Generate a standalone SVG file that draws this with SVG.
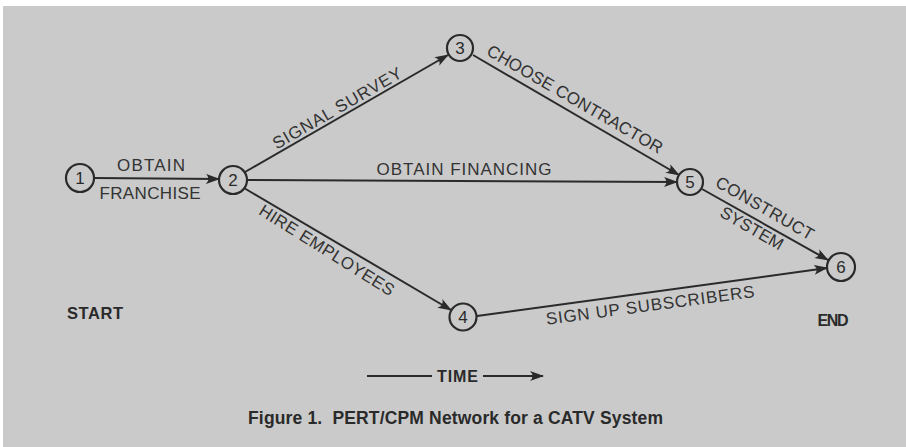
<svg xmlns="http://www.w3.org/2000/svg" width="906" height="447" viewBox="0 0 906 447">
<defs>
<style>
.bg{fill:#cacaca}
.node circle{fill:#cacaca;stroke:#2a2a2a;stroke-width:2.2}
.node text{font-family:"Liberation Sans",Arial,sans-serif;font-size:17px;fill:#2a2a2a;text-anchor:middle}
.edge{stroke:#2a2a2a;stroke-width:2;fill:none}
.lbl{font-family:"Liberation Sans",Arial,sans-serif;font-size:17px;fill:#333;text-anchor:middle}
.bold{font-family:"Liberation Sans",Arial,sans-serif;font-weight:bold;fill:#2a2a2a;text-anchor:middle}
</style>
<marker id="arr" viewBox="0 0 14 10" refX="13" refY="5" markerWidth="14" markerHeight="10" markerUnits="userSpaceOnUse" orient="auto">
<path d="M0,0 Q5,5 0,10 L14,5 Z" fill="#2a2a2a"/>
</marker>
</defs>
<rect x="0" y="0" width="906" height="447" fill="#ffffff"/>
<rect class="bg" x="3" y="6" width="903" height="441"/>
<g id="connectors">
<line class="edge" x1="94" y1="178" x2="219" y2="179" marker-end="url(#arr)"/>
<line class="edge" x1="245" y1="172" x2="448" y2="55" marker-end="url(#arr)"/>
<line class="edge" x1="247" y1="180" x2="677" y2="182" marker-end="url(#arr)"/>
<line class="edge" x1="244" y1="188" x2="451" y2="310" marker-end="url(#arr)"/>
<line class="edge" x1="473" y1="55" x2="679" y2="175" marker-end="url(#arr)"/>
<line class="edge" x1="702" y1="189" x2="828" y2="260" marker-end="url(#arr)"/>
<line class="edge" x1="477" y1="316" x2="827" y2="268" marker-end="url(#arr)"/>
</g>
<g id="edge-labels">
<text class="lbl" x="151" y="171" textLength="68" lengthAdjust="spacing">OBTAIN</text>
<text class="lbl" x="150" y="199" textLength="101" lengthAdjust="spacing">FRANCHISE</text>
<text class="lbl" transform="translate(337,108) rotate(-30)" x="0" y="6" textLength="146" lengthAdjust="spacing">SIGNAL SURVEY</text>
<text class="lbl" x="464" y="175" textLength="175" lengthAdjust="spacing">OBTAIN FINANCING</text>
<text class="lbl" transform="translate(575,99) rotate(30)" x="0" y="6" textLength="200" lengthAdjust="spacing">CHOOSE CONTRACTOR</text>
<text class="lbl" transform="translate(327,250) rotate(32)" x="0" y="6" textLength="156" lengthAdjust="spacing">HIRE EMPLOYEES</text>
<text class="lbl" transform="translate(765,208) rotate(30)" x="0" y="6" textLength="110" lengthAdjust="spacing">CONSTRUCT</text>
<text class="lbl" transform="translate(752,228) rotate(30)" x="0" y="6" textLength="70" lengthAdjust="spacing">SYSTEM</text>
<text class="lbl" transform="translate(650,305) rotate(-7.6)" x="0" y="6" textLength="210" lengthAdjust="spacing">SIGN UP SUBSCRIBERS</text>
</g>
<g id="node1" class="node"><circle cx="80" cy="178" r="14"/><text x="80" y="184">1</text></g>
<g id="node2" class="node"><circle cx="233" cy="180" r="14"/><text x="233" y="186">2</text></g>
<g id="node3" class="node"><circle cx="460" cy="48" r="13"/><text x="460" y="54">3</text></g>
<g id="node4" class="node"><circle cx="463" cy="317" r="13.5"/><text x="463" y="323">4</text></g>
<g id="node5" class="node"><circle cx="690" cy="182" r="13"/><text x="690" y="188">5</text></g>
<g id="node6" class="node"><circle cx="841" cy="267" r="14"/><text x="841" y="273">6</text></g>
<g id="annotations">
<text class="bold" x="95" y="319" font-size="16.5" textLength="56" lengthAdjust="spacing">START</text>
<text class="bold" x="833" y="326" font-size="16" textLength="31" lengthAdjust="spacing">END</text>
<line class="edge" x1="367" y1="376" x2="432" y2="376" stroke-width="1.6"/>
<text class="bold" x="457.5" y="382" font-size="16" textLength="41" lengthAdjust="spacing">TIME</text>
<line class="edge" x1="483" y1="376" x2="543" y2="376" stroke-width="1.6" marker-end="url(#arr)"/>
<text class="bold" x="455.5" y="423.5" font-size="17.5" textLength="415" lengthAdjust="spacing" xml:space="preserve">Figure 1.  PERT/CPM Network for a CATV System</text>
</g>
</svg>
